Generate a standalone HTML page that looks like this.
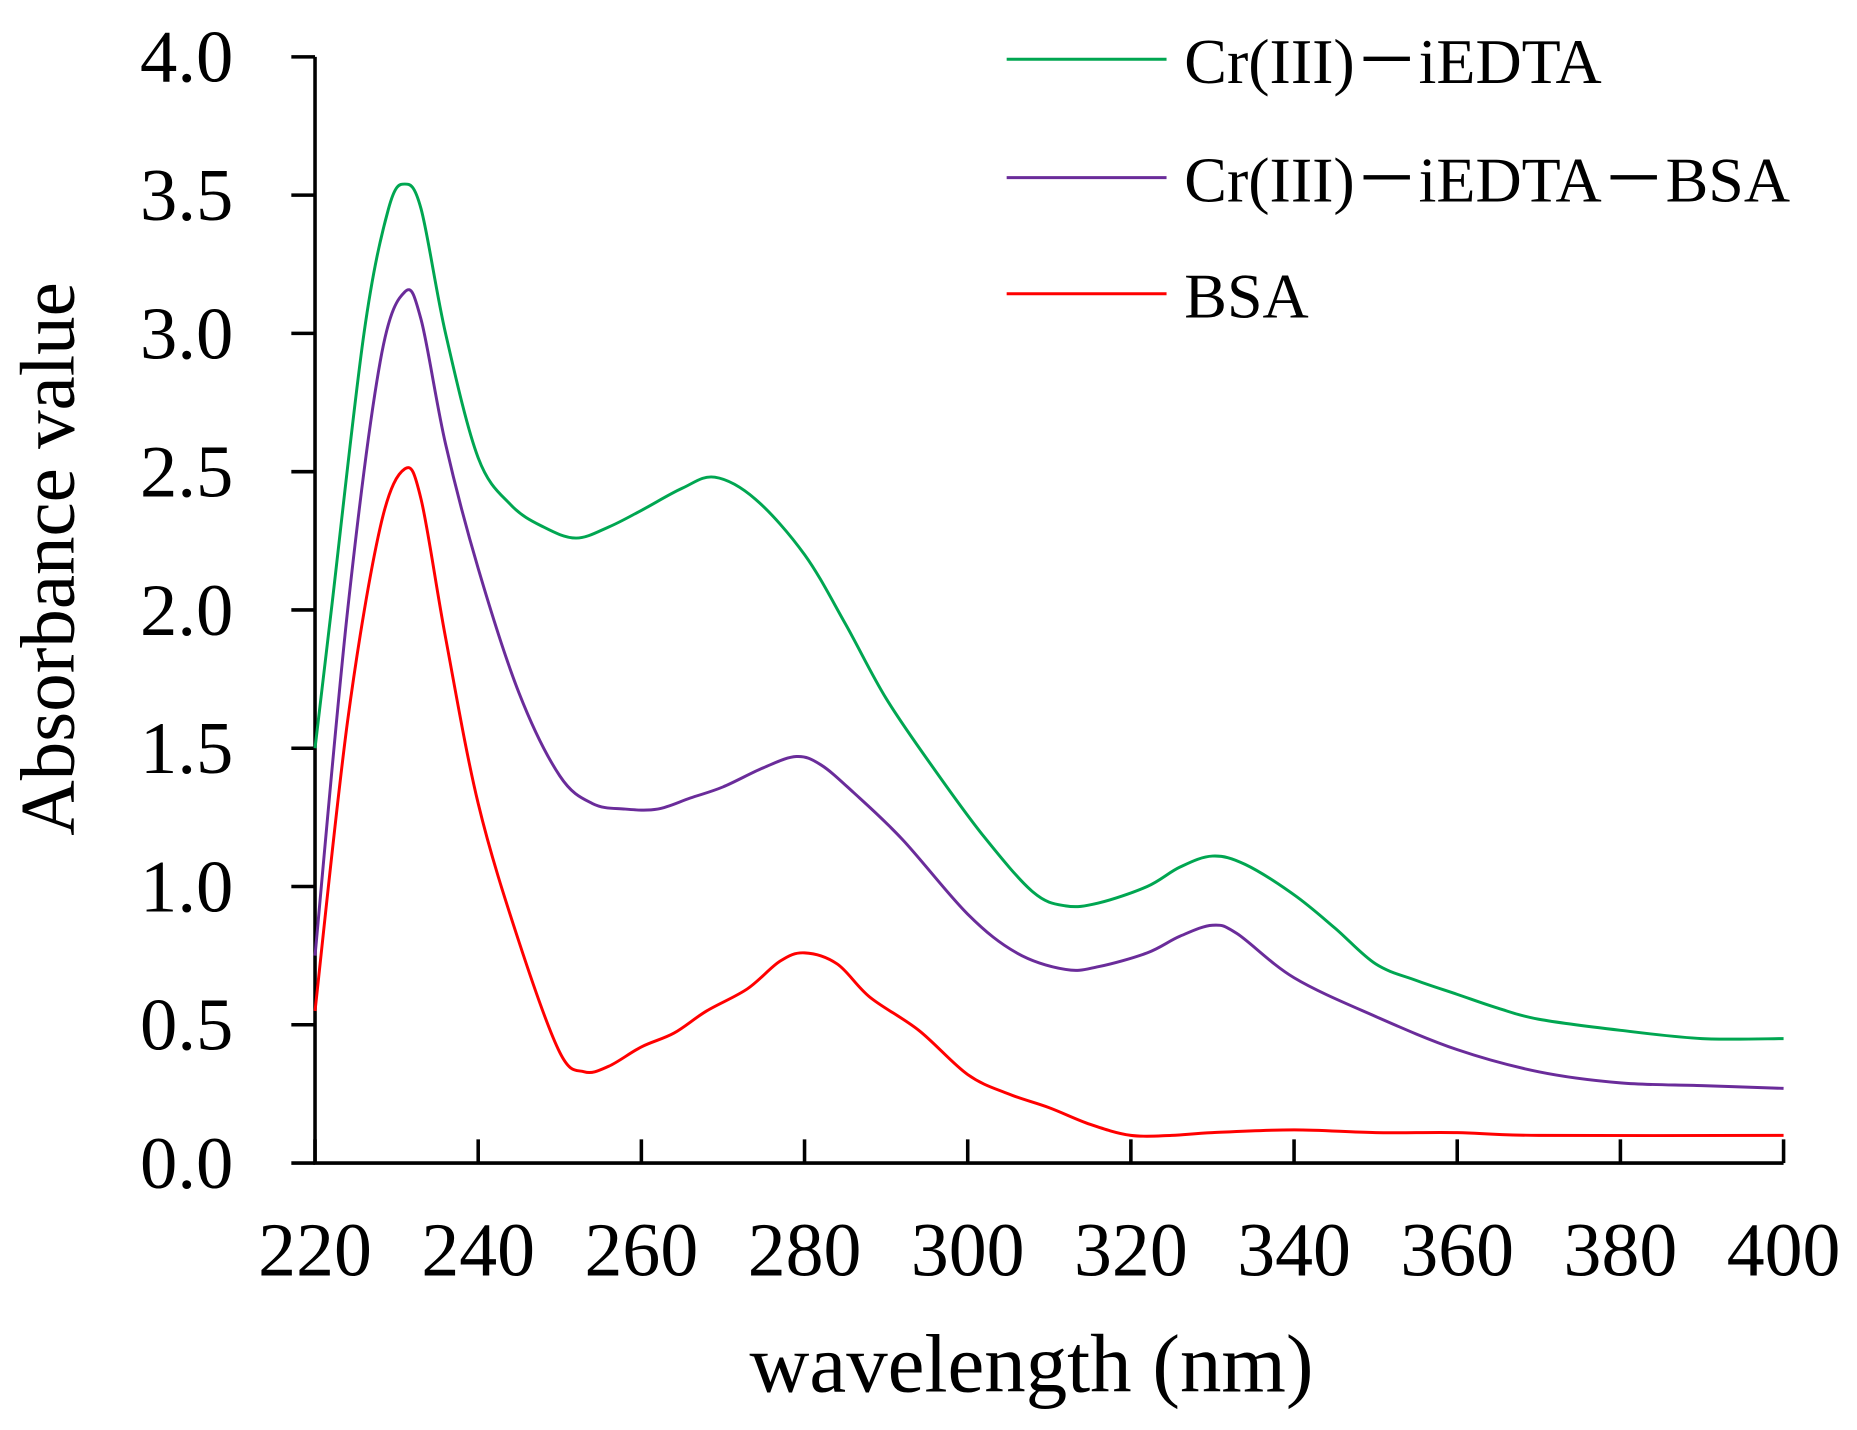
<!DOCTYPE html>
<html><head><meta charset="utf-8"><style>
html,body{margin:0;padding:0;background:#fff;}
svg{display:block;font-family:"Liberation Serif",serif;}
</style></head><body>
<svg id="chart" width="1857" height="1430" viewBox="0 0 1568 1207.4" preserveAspectRatio="none" xmlns="http://www.w3.org/2000/svg">
<g id="axes"></g><g id="series"></g><g id="legend"></g>
<text x="0" y="0" transform="translate(62,472) rotate(-90)" text-anchor="middle" font-size="65">Absorbance value</text>
<text x="871" y="1175" text-anchor="middle" font-size="70">wavelength (nm)</text>
</svg>
<script>
const xTicks=[220,240,260,280,300,320,340,360,380,400];
const yTicks=[0,0.5,1,1.5,2,2.5,3,3.5,4];
const yTickLabels=["0.0","0.5","1.0","1.5","2.0","2.5","3.0","3.5","4.0"];
const seriesNames=["Cr(III)－iEDTA","Cr(III)－iEDTA－BSA","BSA"];
const seriesColors=["#00a651","#6a2c9a","#ff0000"];
const wlGreen=[220,222,226,229,231,233,236,240,244,248,252,256,260,265,269,274,280,285,290,296,302,308,312,316,322,326,330,334,340,345,350,355,360,365,370,380,390,400];
const absGreen=[1.5,2.0,3.0,3.45,3.54,3.45,3.0,2.55,2.38,2.3,2.26,2.3,2.36,2.44,2.48,2.4,2.2,1.95,1.68,1.42,1.18,0.98,0.93,0.94,1.0,1.07,1.11,1.08,0.97,0.85,0.72,0.66,0.61,0.56,0.52,0.48,0.45,0.45];
const wlPurple=[220,224,228,231,233,236,240,245,250,254,258,262,266,270,275,279,282,286,292,300,306,312,316,322,326,330,333,340,350,360,370,380,390,400];
const absPurple=[0.75,2.0,2.9,3.15,3.05,2.6,2.15,1.7,1.4,1.3,1.28,1.28,1.32,1.36,1.43,1.47,1.44,1.34,1.17,0.9,0.76,0.7,0.71,0.76,0.82,0.86,0.83,0.67,0.53,0.41,0.33,0.29,0.28,0.27];
const wlRed=[220,224,228,231,233,236,240,245,250,253,256,260,264,268,273,277,280,284,288,294,300,305,310,315,320,325,330,340,350,360,370,400];
const absRed=[0.55,1.6,2.3,2.51,2.4,1.9,1.3,0.8,0.4,0.33,0.35,0.42,0.47,0.55,0.63,0.73,0.76,0.72,0.6,0.48,0.32,0.25,0.2,0.14,0.1,0.1,0.11,0.12,0.11,0.11,0.1,0.1];

const NS="http://www.w3.org/2000/svg";
const X0=266,X1=1506,Y0=982,Y1=48;
const xs=v=>X0+(v-220)/(400-220)*(X1-X0);
const ys=v=>Y0-(v/4)*(Y0-Y1);
function mk(t,a,p){const e=document.createElementNS(NS,t);for(const k in a)e.setAttribute(k,a[k]);p.appendChild(e);return e;}
const axes=document.getElementById('axes');
let l=mk('line',{x1:X0,y1:Y1,x2:X0,y2:Y0,stroke:'#000','stroke-width':3},axes);


l=mk('line',{x1:X0-1.5,y1:Y0,x2:X1,y2:Y0,stroke:'#000','stroke-width':3},axes);


xTicks.forEach(v=>{
 const t=mk('line',{x1:xs(v),y1:Y0,x2:xs(v),y2:Y0-20,stroke:'#000','stroke-width':3},axes);
 
 
 const tx=mk('text',{x:xs(v),y:1077,'text-anchor':'middle','font-size':64},axes);
 tx.textContent=v;
 
 
});
yTicks.forEach((v,i)=>{
 const t=mk('line',{x1:X0,y1:ys(v),x2:X0-20,y2:ys(v),stroke:'#000','stroke-width':3},axes);
 
 
 const tx=mk('text',{x:197,y:ys(v)+21,'text-anchor':'end','font-size':63},axes);
 tx.textContent=yTickLabels[i];
 
 
});
function path(wl,ab){
 const p=wl.map((w,i)=>[xs(w),ys(ab[i])]);
 let d='M'+p[0][0]+','+p[0][1];
 for(let i=0;i<p.length-1;i++){
  const a=p[Math.max(0,i-1)],b=p[i],c=p[i+1],e=p[Math.min(p.length-1,i+2)];
  const c1=[b[0]+(c[0]-a[0])/6,b[1]+(c[1]-a[1])/6],c2=[c[0]-(e[0]-b[0])/6,c[1]-(e[1]-b[1])/6];
  d+=`C${c1[0]},${c1[1]} ${c2[0]},${c2[1]} ${c[0]},${c[1]}`;
 }
 return d;
}
const ser=document.getElementById('series');
const data=[[wlGreen,absGreen],[wlPurple,absPurple],[wlRed,absRed]];
const names=['green-series-line','purple-series-line','red-series-line'];
data.forEach((s,i)=>{
 const p=mk('path',{d:path(s[0],s[1]),fill:'none',stroke:seriesColors[i],'stroke-width':2.5},ser);
 
 
});
const leg=document.getElementById('legend');
const ly=[50,150,248];
seriesNames.forEach((n,i)=>{
 const g=mk('g',{},leg);
 
 
 mk('line',{x1:850,y1:ly[i],x2:985,y2:ly[i],stroke:seriesColors[i],'stroke-width':2.5},g);
 const t=mk('text',{x:1000,y:ly[i]+20,'font-size':54,'font-family':'"Liberation Serif","Noto Sans CJK SC",serif'},g);
 t.textContent=n;
});
</script>
</body></html>
